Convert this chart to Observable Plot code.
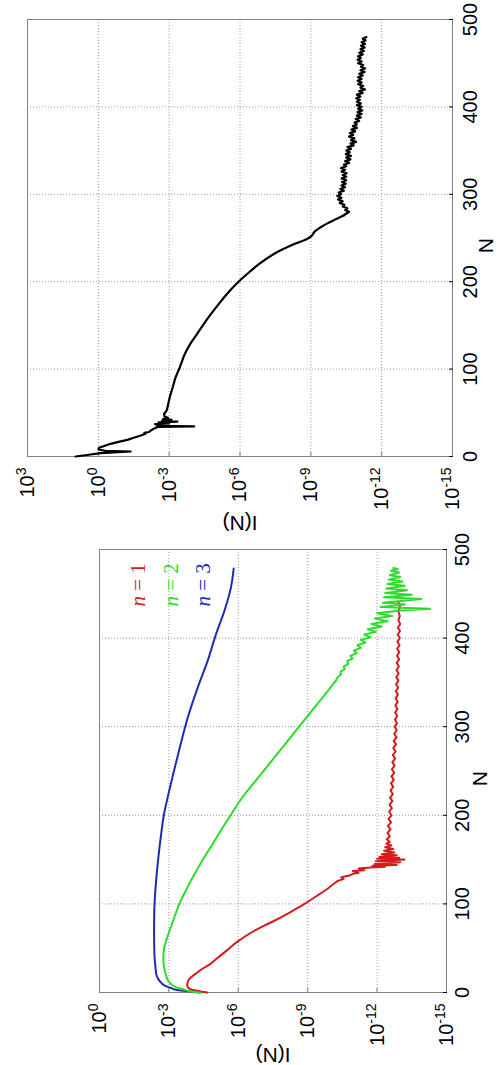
<!DOCTYPE html>
<html><head><meta charset="utf-8">
<script src="https://cdn.jsdelivr.net/npm/d3@7"></script>
<script src="https://cdn.jsdelivr.net/npm/@observablehq/plot@0.6"></script>
<style>
body{margin:0;background:#fff;}
#chart svg{display:block;}
</style></head><body><div id="chart"></div>
<script>
// ---------- data ----------
const nTicks = [0, 100, 200, 300, 400, 500];
const topITicks = [1e3, 1e0, 1e-3, 1e-6, 1e-9, 1e-12, 1e-15];
const botITicks = [1e0, 1e-3, 1e-6, 1e-9, 1e-12, 1e-15];

// top panel (single black curve): N and log10 I(N)
const topN = [0, 2, 3.8, 5.7, 6.5, 8, 10, 12, 14.5, 17, 19, 21.5, 24, 26, 27, 28, 29.8, 31, 32.5, 34, 34.4, 35, 35.5, 37, 38, 39, 40, 41, 42, 43, 44, 46, 48.9, 52, 56.5, 65, 72, 81, 91, 100, 110, 116,
  130, 139, 155, 170, 189, 201, 210, 220, 232, 242, 249, 253, 257, 262, 267, 272, 276,
  280, 282, 284, 286, 288, 290, 292, 294, 296, 298, 300, 302, 304, 306, 308, 310, 312, 314, 316, 318, 320, 322, 324, 326, 328, 330, 332, 334, 336, 338, 340, 342, 344, 346, 348, 350, 352, 354, 356, 358, 360, 362, 364, 366, 368, 370, 372, 374, 376, 378, 380, 382, 384, 386, 388, 390, 392, 394, 396, 398, 400, 402, 404, 406, 408, 410, 412, 414, 416, 418, 420, 422, 424, 426, 428, 430, 432, 434, 436, 438, 440, 442, 444, 446, 448, 450, 452, 454, 456, 458, 460, 462, 464, 466, 468, 470, 472, 474, 476, 478, 480];
const topLogI = [0.96, 0.4, -0.1, -1.37, -0.3, 0.0, -0.03, -0.25, -0.52, -0.9, -1.23, -1.5, -1.8, -2.0, -1.95, -2.15, -2.22, -2.3, -2.4, -2.55, -4.06, -2.5, -2.6, -2.4, -3.0, -2.55, -3.35, -2.7, -3.1, -2.75, -2.95, -2.8, -2.79, -2.88, -2.93, -3.0, -3.07, -3.17, -3.28, -3.42, -3.56, -3.64,
  -3.92, -4.15, -4.55, -4.97, -5.55, -5.98, -6.35, -6.8, -7.45, -8.2, -8.85, -9.05, -9.15, -9.4, -9.72, -10.1, -10.4,
  -10.62, -10.45, -10.55, -10.35, -10.42, -10.22, -10.35, -10.15, -10.3, -10.12, -10.28, -10.18, -10.4, -10.25, -10.45, -10.3, -10.48, -10.32, -10.5, -10.3, -10.5, -10.35, -10.52, -10.3, -10.45, -10.28, -10.5, -10.4, -10.62, -10.45, -10.68, -10.5, -10.7, -10.48, -10.65, -10.5, -10.7, -10.55, -10.82, -10.68, -10.92, -10.7, -10.85, -10.62, -10.8, -10.65, -10.88, -10.72, -10.95, -10.78, -10.95, -10.85, -11.05, -10.9, -11.12, -10.95, -11.15, -10.98, -11.18, -11.0, -11.15, -10.95, -11.12, -10.95, -11.08, -10.92, -11.1, -10.95, -11.2, -11.05, -11.3, -11.1, -11.22, -11.0, -11.15, -10.98, -11.15, -11.0, -11.2, -11.05, -11.28, -11.1, -11.3, -11.12, -11.22, -11.0, -11.15, -10.98, -11.12, -11.0, -11.2, -11.05, -11.25, -11.1, -11.28, -11.12, -11.3, -11.15, -11.32, -11.2, -11.35];

// bottom panel, n = 1 (red)
const redN = [0, 2, 4, 7, 10, 14, 17, 21, 26, 32, 40, 47, 55, 60, 68, 75, 81, 90, 100, 110, 118, 123, 126, 128, 130, 132, 134, 135, 137, 138, 140, 141, 142, 143, 144, 145, 147, 148, 150, 151, 152, 153, 155, 156, 158, 160, 162, 164, 166, 168, 170, 173, 176,
  180, 184, 188, 192, 196, 200, 204, 208, 212, 216, 220, 224, 228, 232, 236, 240, 244, 248, 252, 256, 260, 264, 268, 272, 276, 280, 284, 288, 292, 296, 300, 304, 308, 312, 316, 320, 324, 328, 332, 336, 340, 344, 348, 352, 356, 360, 364, 368, 372, 376, 380, 384, 388, 392, 396, 400, 404, 408, 412, 416, 420, 425, 430, 435, 440];
const redLogI = [-4.66, -4.2, -3.9, -3.8, -3.8, -3.85, -3.95, -4.15, -4.4, -4.78, -5.15, -5.48, -5.84, -6.11, -6.58, -7.08, -7.56, -8.2, -8.86, -9.45, -9.9, -10.15, -10.3, -10.55, -10.45, -10.8, -10.95, -11.2, -10.95, -11.45, -11.2, -11.7, -12.35, -11.8, -12.85, -11.9, -13.0, -11.95, -13.18, -12.0, -12.95, -12.1, -12.85, -12.2, -12.75, -12.3, -12.7, -12.35, -12.62, -12.4, -12.55, -12.42, -12.55,
  -12.45, -12.58, -12.47, -12.6, -12.5, -12.62, -12.52, -12.64, -12.54, -12.66, -12.56, -12.68, -12.58, -12.7, -12.6, -12.72, -12.62, -12.74, -12.64, -12.76, -12.66, -12.78, -12.68, -12.8, -12.7, -12.82, -12.72, -12.84, -12.74, -12.85, -12.76, -12.86, -12.77, -12.87, -12.78, -12.88, -12.79, -12.89, -12.8, -12.9, -12.81, -12.91, -12.82, -12.92, -12.83, -12.93, -12.84, -12.94, -12.85, -12.95, -12.86, -12.96, -12.87, -12.97, -12.88, -12.98, -12.89, -12.99, -12.9, -13.0, -12.92, -12.98, -12.92, -12.99, -12.93];

// bottom panel, n = 2 (green)
const greenN = [0, 1.5, 3.3, 6, 10, 15, 21, 30, 40, 51, 66, 80, 100, 115, 128, 150, 166, 185, 200, 219, 240, 262, 290, 315, 340, 352,
  356, 359, 362, 365, 368, 371, 374, 377, 380, 383, 386, 389, 392, 395, 398, 401, 404, 407, 410, 413, 416, 419, 422, 425, 428, 431, 433, 435, 438, 440, 444, 446, 449, 451, 454, 456, 459, 461, 464, 466, 469, 471, 474, 476, 478, 479];
const greenLogI = [-4.37, -3.9, -3.65, -3.3, -3.07, -2.93, -2.86, -2.78, -2.76, -2.8, -2.98, -3.17, -3.45, -3.73, -3.99, -4.47, -4.85, -5.3, -5.67, -6.14, -6.78, -7.46, -8.32, -9.09, -9.86, -10.22,
  -10.3, -10.44, -10.42, -10.6, -10.56, -10.76, -10.7, -10.94, -10.84, -11.12, -11.0, -11.3, -11.15, -11.5, -11.3, -11.72, -11.45, -11.95, -11.6, -12.2, -11.75, -12.45, -11.9, -12.65, -12.0, -12.9, -14.3, -12.15, -13.2, -12.25, -13.9, -12.3, -13.5, -12.35, -13.3, -12.4, -13.2, -12.45, -13.1, -12.5, -13.0, -12.55, -12.95, -12.6, -12.9, -12.7];

// bottom panel, n = 3 (blue)
const blueN = [0, 1.6, 3, 5.3, 8, 11.7, 16, 21, 28.6, 40, 66, 100, 130, 158.5, 180, 200, 234, 272, 309, 343, 374, 404, 430, 457, 478.5];
const blueLogI = [-4.37, -3.8, -3.3, -3.07, -2.8, -2.64, -2.52, -2.45, -2.42, -2.38, -2.36, -2.38, -2.46, -2.57, -2.67, -2.78, -3.07, -3.43, -3.8, -4.23, -4.67, -5.03, -5.39, -5.68, -5.8];

const legendLabels = ["n = 1", "n = 2", "n = 3"];

// ---------- helpers ----------
const RED = "#d41c1c", GREEN = "#2cdc2c", BLUE = "#1c2cb0";
const rows = (ns, ls) => ns.map((n, i) => ({N: n, I: Math.pow(10, ls[i])}));
const seg = (data, lo, hi) => data.filter(d => d.N >= lo && d.N <= hi);
const expFmt = d => "10^" + Math.round(Math.log10(d));
const SANS = "'Liberation Sans', Arial, Helvetica, sans-serif";
const SERIF = "'Liberation Serif', 'Times New Roman', serif";

function panel(cfg) {
  const gridStyle = {stroke: "#9a9a9a", strokeOpacity: 1, strokeDasharray: "1,2", strokeWidth: 1};
  const marks = [
    Plot.gridX(cfg.iTicks, gridStyle),
    Plot.gridY(nTicks, gridStyle),
    Plot.frame({stroke: "#808080", strokeWidth: 1}),
    Plot.axisX(cfg.iTicks, {anchor: "bottom", tickSize: -4, tickPadding: cfg.xPad, tickRotate: -90, tickFormat: expFmt, label: null, fontSize: 20, stroke: "#808080"}),
    Plot.axisY(nTicks, {anchor: "right", tickSize: -4, tickPadding: cfg.yPad, tickRotate: -90, lineAnchor: "top", tickFormat: d => String(d), label: null, fontSize: 20}),
    ...cfg.lines,
    Plot.text(["N"], {frameAnchor: "right", dx: 34, rotate: -90, fontSize: 21, fontFamily: SANS}),
    Plot.text(["I(N)"], {frameAnchor: "bottom", dy: cfg.labelDy, rotate: 180, fontSize: 21, fontFamily: SANS}),
    ...(cfg.extra || [])
  ];
  const svg = Plot.plot({
    width: 502, height: cfg.height,
    marginTop: cfg.mt, marginBottom: cfg.mb, marginLeft: cfg.ml, marginRight: cfg.mr,
    style: {fontFamily: SANS, fontSize: "20px", color: "#000", background: "#fff", overflow: "visible"},
    x: {type: "log", domain: cfg.xDomain},
    y: {domain: [0, 500]},
    marks
  });
  // superscript exponents on the I(N) tick labels
  svg.querySelectorAll('g[aria-label="x-axis tick label"] text').forEach(t => {
    const m = t.textContent.match(/^10\^(.+)$/);
    if (m) {
      t.textContent = "10";
      const ts = document.createElementNS("http://www.w3.org/2000/svg", "tspan");
      ts.setAttribute("dy", "-0.55em");
      ts.setAttribute("font-size", "14px");
      ts.textContent = m[1];
      t.appendChild(ts);
    }
  });
  // italic n in legend
  svg.querySelectorAll('text').forEach(t => {
    const m = t.textContent.match(/^n( = \d)$/);
    if (m && t.children.length === 0) {
      t.textContent = "";
      const a = document.createElementNS("http://www.w3.org/2000/svg", "tspan");
      a.setAttribute("font-style", "italic");
      a.textContent = "n";
      t.appendChild(a);
      t.appendChild(document.createTextNode(m[1]));
    }
  });
  return svg;
}

const topRows = rows(topN, topLogI);
const topSvg = panel({
  height: 530, mt: 19, mb: 74, ml: 27, mr: 50,
  xDomain: [1e3, 1e-15], iTicks: topITicks, xPad: 15, yPad: 14, labelDy: 59,
  lines: [
    Plot.line(seg(topRows, 0, 48.9), {x: "I", y: "N", stroke: "#000", strokeWidth: 2.2}),
    Plot.line(seg(topRows, 48.9, 276), {x: "I", y: "N", stroke: "#000", strokeWidth: 2.2, curve: "catmull-rom"}),
    Plot.line(seg(topRows, 276, 500), {x: "I", y: "N", stroke: "#000", strokeWidth: 2.2})
  ]
});

const redRows = rows(redN, redLogI), greenRows = rows(greenN, greenLogI), blueRows = rows(blueN, blueLogI);
const legendColors = [RED, GREEN, BLUE];
const legendDx = [31, 64, 96];
const botSvg = panel({
  height: 535, mt: 19, mb: 73, ml: 99, mr: 56,
  xDomain: [1e0, 1e-15], iTicks: botITicks, xPad: 15, yPad: 12, labelDy: 55,
  lines: [
    Plot.line(seg(redRows, 0, 126), {x: "I", y: "N", stroke: RED, strokeWidth: 2, curve: "catmull-rom"}),
    Plot.line(seg(redRows, 126, 500), {x: "I", y: "N", stroke: RED, strokeWidth: 2}),
    Plot.line(blueRows, {x: "I", y: "N", stroke: BLUE, strokeWidth: 2, curve: "catmull-rom"}),
    Plot.line(seg(greenRows, 0, 352), {x: "I", y: "N", stroke: GREEN, strokeWidth: 2, curve: "catmull-rom"}),
    Plot.line(seg(greenRows, 352, 500), {x: "I", y: "N", stroke: GREEN, strokeWidth: 2})
  ],
  extra: legendLabels.map((s, i) => Plot.text([s], {frameAnchor: "top-left", dx: legendDx[i], dy: 57, rotate: -90, fill: legendColors[i], fontSize: 21, fontFamily: SERIF}))
});

const root = document.getElementById("chart");
root.appendChild(topSvg);
root.appendChild(botSvg);
</script></body></html>
